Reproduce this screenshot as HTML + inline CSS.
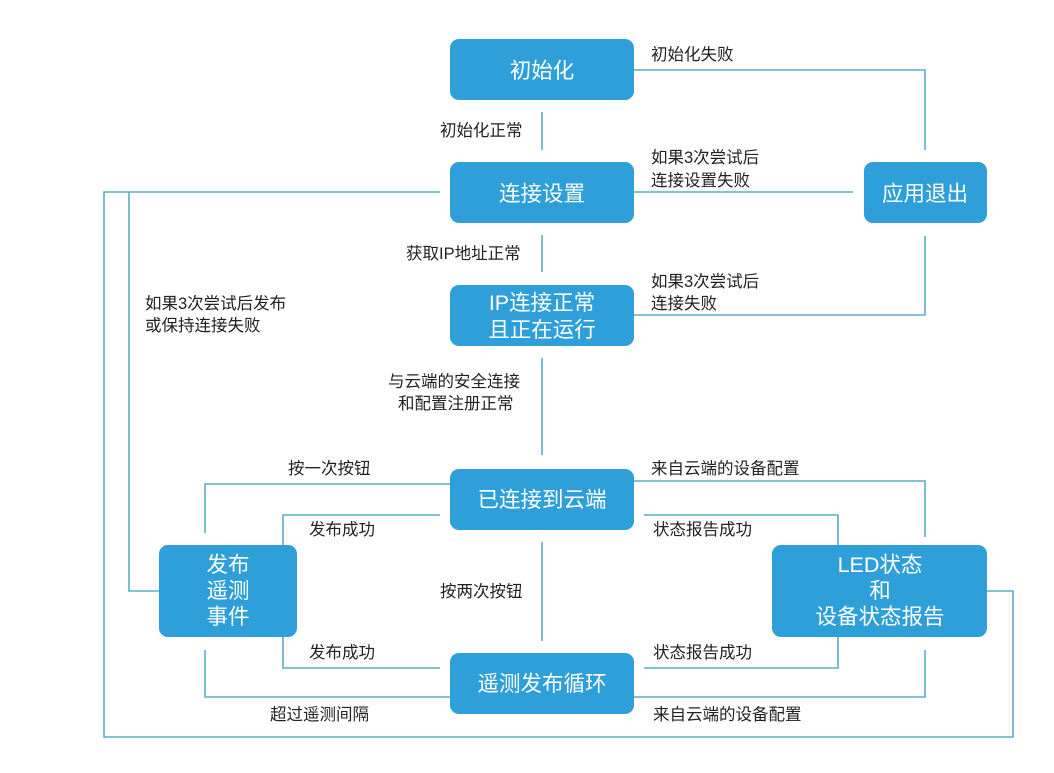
<!DOCTYPE html>
<html><head><meta charset="utf-8"><style>
html,body{margin:0;padding:0;background:#fff;width:1054px;height:773px;overflow:hidden}
svg{display:block}
.l{font-family:"Liberation Sans","Noto Sans CJK SC",sans-serif;font-size:16.5px;fill:#222}
.b{font-family:"Liberation Sans","Noto Sans CJK SC",sans-serif;font-size:21.5px;fill:#fff;text-anchor:middle}
</style></head><body>
<svg width="1054" height="773" viewBox="0 0 1054 773">
<g fill="none" stroke="#5aaec4" stroke-width="1.6">
<polyline points="634,70 925,70 925,150"/>
<line x1="542" y1="112" x2="542" y2="150"/>
<line x1="634" y1="192" x2="853" y2="192"/>
<polyline points="925,236 925,315 634,315"/>
<line x1="542" y1="235" x2="542" y2="272"/>
<line x1="542" y1="358" x2="542" y2="455"/>
<polyline points="440,192 104,192 104,737 1013,737 1013,591 987,591"/>
<polyline points="129,192 129,591 159,591"/>
<polyline points="450,484 205,484 205,533"/>
<polyline points="440,515 283,515 283,545"/>
<polyline points="283,637 283,668 440,668"/>
<polyline points="205,650 205,697 450,697"/>
<line x1="542" y1="542" x2="542" y2="641"/>
<polyline points="634,481 925,481 925,537"/>
<polyline points="644,515 838,515 838,545"/>
<polyline points="838,637 838,668 644,668"/>
<polyline points="634,697 925,697 925,650"/>
</g>
<g fill="#2e9fd8">
<rect x="450" y="39" width="184" height="61" rx="9"/>
<rect x="450" y="162" width="184" height="61" rx="9"/>
<rect x="864" y="162" width="123" height="61" rx="9"/>
<rect x="450" y="285" width="184" height="61" rx="9"/>
<rect x="450" y="469" width="184" height="61" rx="9"/>
<rect x="159" y="545" width="138" height="92" rx="9"/>
<rect x="772" y="545" width="215" height="92" rx="9"/>
<rect x="450" y="653" width="184" height="61" rx="9"/>
</g>
<text class="b" x="542" y="78">初始化</text>
<text class="b" x="542" y="201">连接设置</text>
<text class="b" x="925" y="201">应用退出</text>
<text class="b" x="542" y="310">IP连接正常</text>
<text class="b" x="542" y="337">且正在运行</text>
<text class="b" x="542" y="507">已连接到云端</text>
<text class="b" x="542" y="691">遥测发布循环</text>
<text class="b" x="228" y="572">发布</text>
<text class="b" x="228" y="598">遥测</text>
<text class="b" x="228" y="624">事件</text>
<text class="b" x="880" y="572">LED状态</text>
<text class="b" x="880" y="598">和</text>
<text class="b" x="880" y="624">设备状态报告</text>
<text class="l" x="651" y="60">初始化失败</text>
<text class="l" x="440" y="136">初始化正常</text>
<text class="l" x="651" y="163">如果3次尝试后</text>
<text class="l" x="651" y="186">连接设置失败</text>
<text class="l" x="406" y="259">获取IP地址正常</text>
<text class="l" x="651" y="287">如果3次尝试后</text>
<text class="l" x="651" y="309">连接失败</text>
<text class="l" x="145" y="309">如果3次尝试后发布</text>
<text class="l" x="145" y="331">或保持连接失败</text>
<text class="l" x="388" y="387">与云端的安全连接</text>
<text class="l" x="398" y="409">和配置注册正常</text>
<text class="l" x="288" y="474">按一次按钮</text>
<text class="l" x="651" y="474">来自云端的设备配置</text>
<text class="l" x="309" y="535">发布成功</text>
<text class="l" x="653" y="535">状态报告成功</text>
<text class="l" x="440" y="597">按两次按钮</text>
<text class="l" x="309" y="658">发布成功</text>
<text class="l" x="653" y="658">状态报告成功</text>
<text class="l" x="270" y="720">超过遥测间隔</text>
<text class="l" x="653" y="720">来自云端的设备配置</text>
</svg>
</body></html>
